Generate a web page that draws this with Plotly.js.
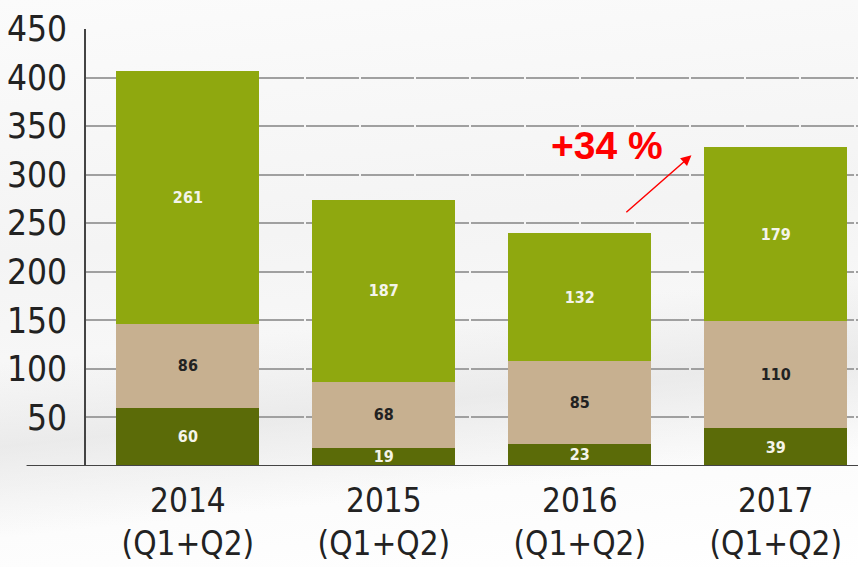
<!DOCTYPE html>
<html>
<head>
<meta charset="utf-8">
<script src="https://cdn.plot.ly/plotly-3.0.1.min.js"></script>
<style>
html,body{margin:0;padding:0;}
body{width:858px;height:567px;overflow:hidden;
background:
 linear-gradient(174deg, rgba(255,255,255,0) 55%, rgba(220,220,220,0.5) 68%, rgba(255,255,255,0) 82%),
 linear-gradient(175deg, #fbfbfb 0%, #f4f4f4 40%, #ffffff 100%);}
#chart{width:858px;height:567px;}
</style>
</head>
<body>
<div id="chart"></div>
<script>
const categories = ["2014<br>(Q1+Q2)", "2015<br>(Q1+Q2)", "2016<br>(Q1+Q2)", "2017<br>(Q1+Q2)"];
const bottomSeries = [60, 19, 23, 39];
const middleSeries = [86, 68, 85, 110];
const topSeries = [261, 187, 132, 179];
const yTickVals = [50, 100, 150, 200, 250, 300, 350, 400, 450];
const growthLabel = "+34 %";

const idx = categories.map((_, i) => i);
const NARROW = "DejaVu Sans Condensed, Liberation Sans Narrow, Arial Narrow, sans-serif";
const barFont = {family: NARROW, size: 16};

function seg(vals, color, textColor) {
  return {
    type: "bar", x: idx, y: vals, text: vals.map(String),
    textposition: "inside", insidetextanchor: "middle", textangle: 0,
    constraintext: "none",
    textfont: Object.assign({color: textColor, weight: "bold"}, barFont),
    marker: {color: color, line: {width: 0}},
    hoverinfo: "none", showlegend: false, cliponaxis: false
  };
}

const data = [
  seg(bottomSeries, "#5b6b08", "#f4f4ea"),
  seg(middleSeries, "#c7b090", "#222222"),
  seg(topSeries, "#8fa80f", "#f4f4ea")
];

const total2016 = bottomSeries[2] + middleSeries[2] + topSeries[2];
const total2017 = bottomSeries[3] + middleSeries[3] + topSeries[3];

const layout = {
  width: 858, height: 567,
  margin: {l: 86, r: 0, t: 29, b: 101, pad: 0},
  paper_bgcolor: "rgba(0,0,0,0)",
  plot_bgcolor: "rgba(0,0,0,0)",
  barmode: "stack",
  bargap: 0.27,
  font: {family: NARROW, color: "#222"},
  xaxis: {
    range: [-0.52, 3.42],
    tickvals: idx, ticktext: categories,
    ticks: "", showgrid: false, zeroline: false, showline: false,
    tickfont: {size: 33, color: "#222", family: NARROW},
    ticklabelstandoff: 12,
    fixedrange: true
  },
  yaxis: {
    range: [0, 450],
    tickvals: yTickVals, ticktext: yTickVals.map(String),
    ticks: "", showline: true, linecolor: "#444", linewidth: 2,
    showgrid: true, gridcolor: "#a0a0a0", gridwidth: 2, griddash: "53px,2px",
    zeroline: false,
    tickfont: {size: 35, color: "#222", family: NARROW},
    ticklabelstandoff: 10,
    fixedrange: true
  },
  shapes: [{
    type: "line", xref: "paper", yref: "y", x0: -0.077, x1: 1, y0: 0, y1: 0,
    line: {color: "#444", width: 2}, layer: "above"
  }],
  annotations: [
    {
      x: 2.57, y: total2017 - 8, xref: "x", yref: "y",
      ax: 2.23, ay: total2016 + 20, axref: "x", ayref: "y",
      text: "", showarrow: true, arrowhead: 2, arrowsize: 1.4, arrowwidth: 1.5,
      arrowcolor: "#ff0000"
    },
    {
      x: 2.14, y: total2016 + 90, xref: "x", yref: "y",
      text: growthLabel, showarrow: false,
      font: {family: "Liberation Sans, Arial, sans-serif", size: 39, color: "#ff0000", weight: "bold"}
    }
  ]
};

Plotly.newPlot("chart", data, layout, {displayModeBar: false, staticPlot: true});
</script>
</body>
</html>
